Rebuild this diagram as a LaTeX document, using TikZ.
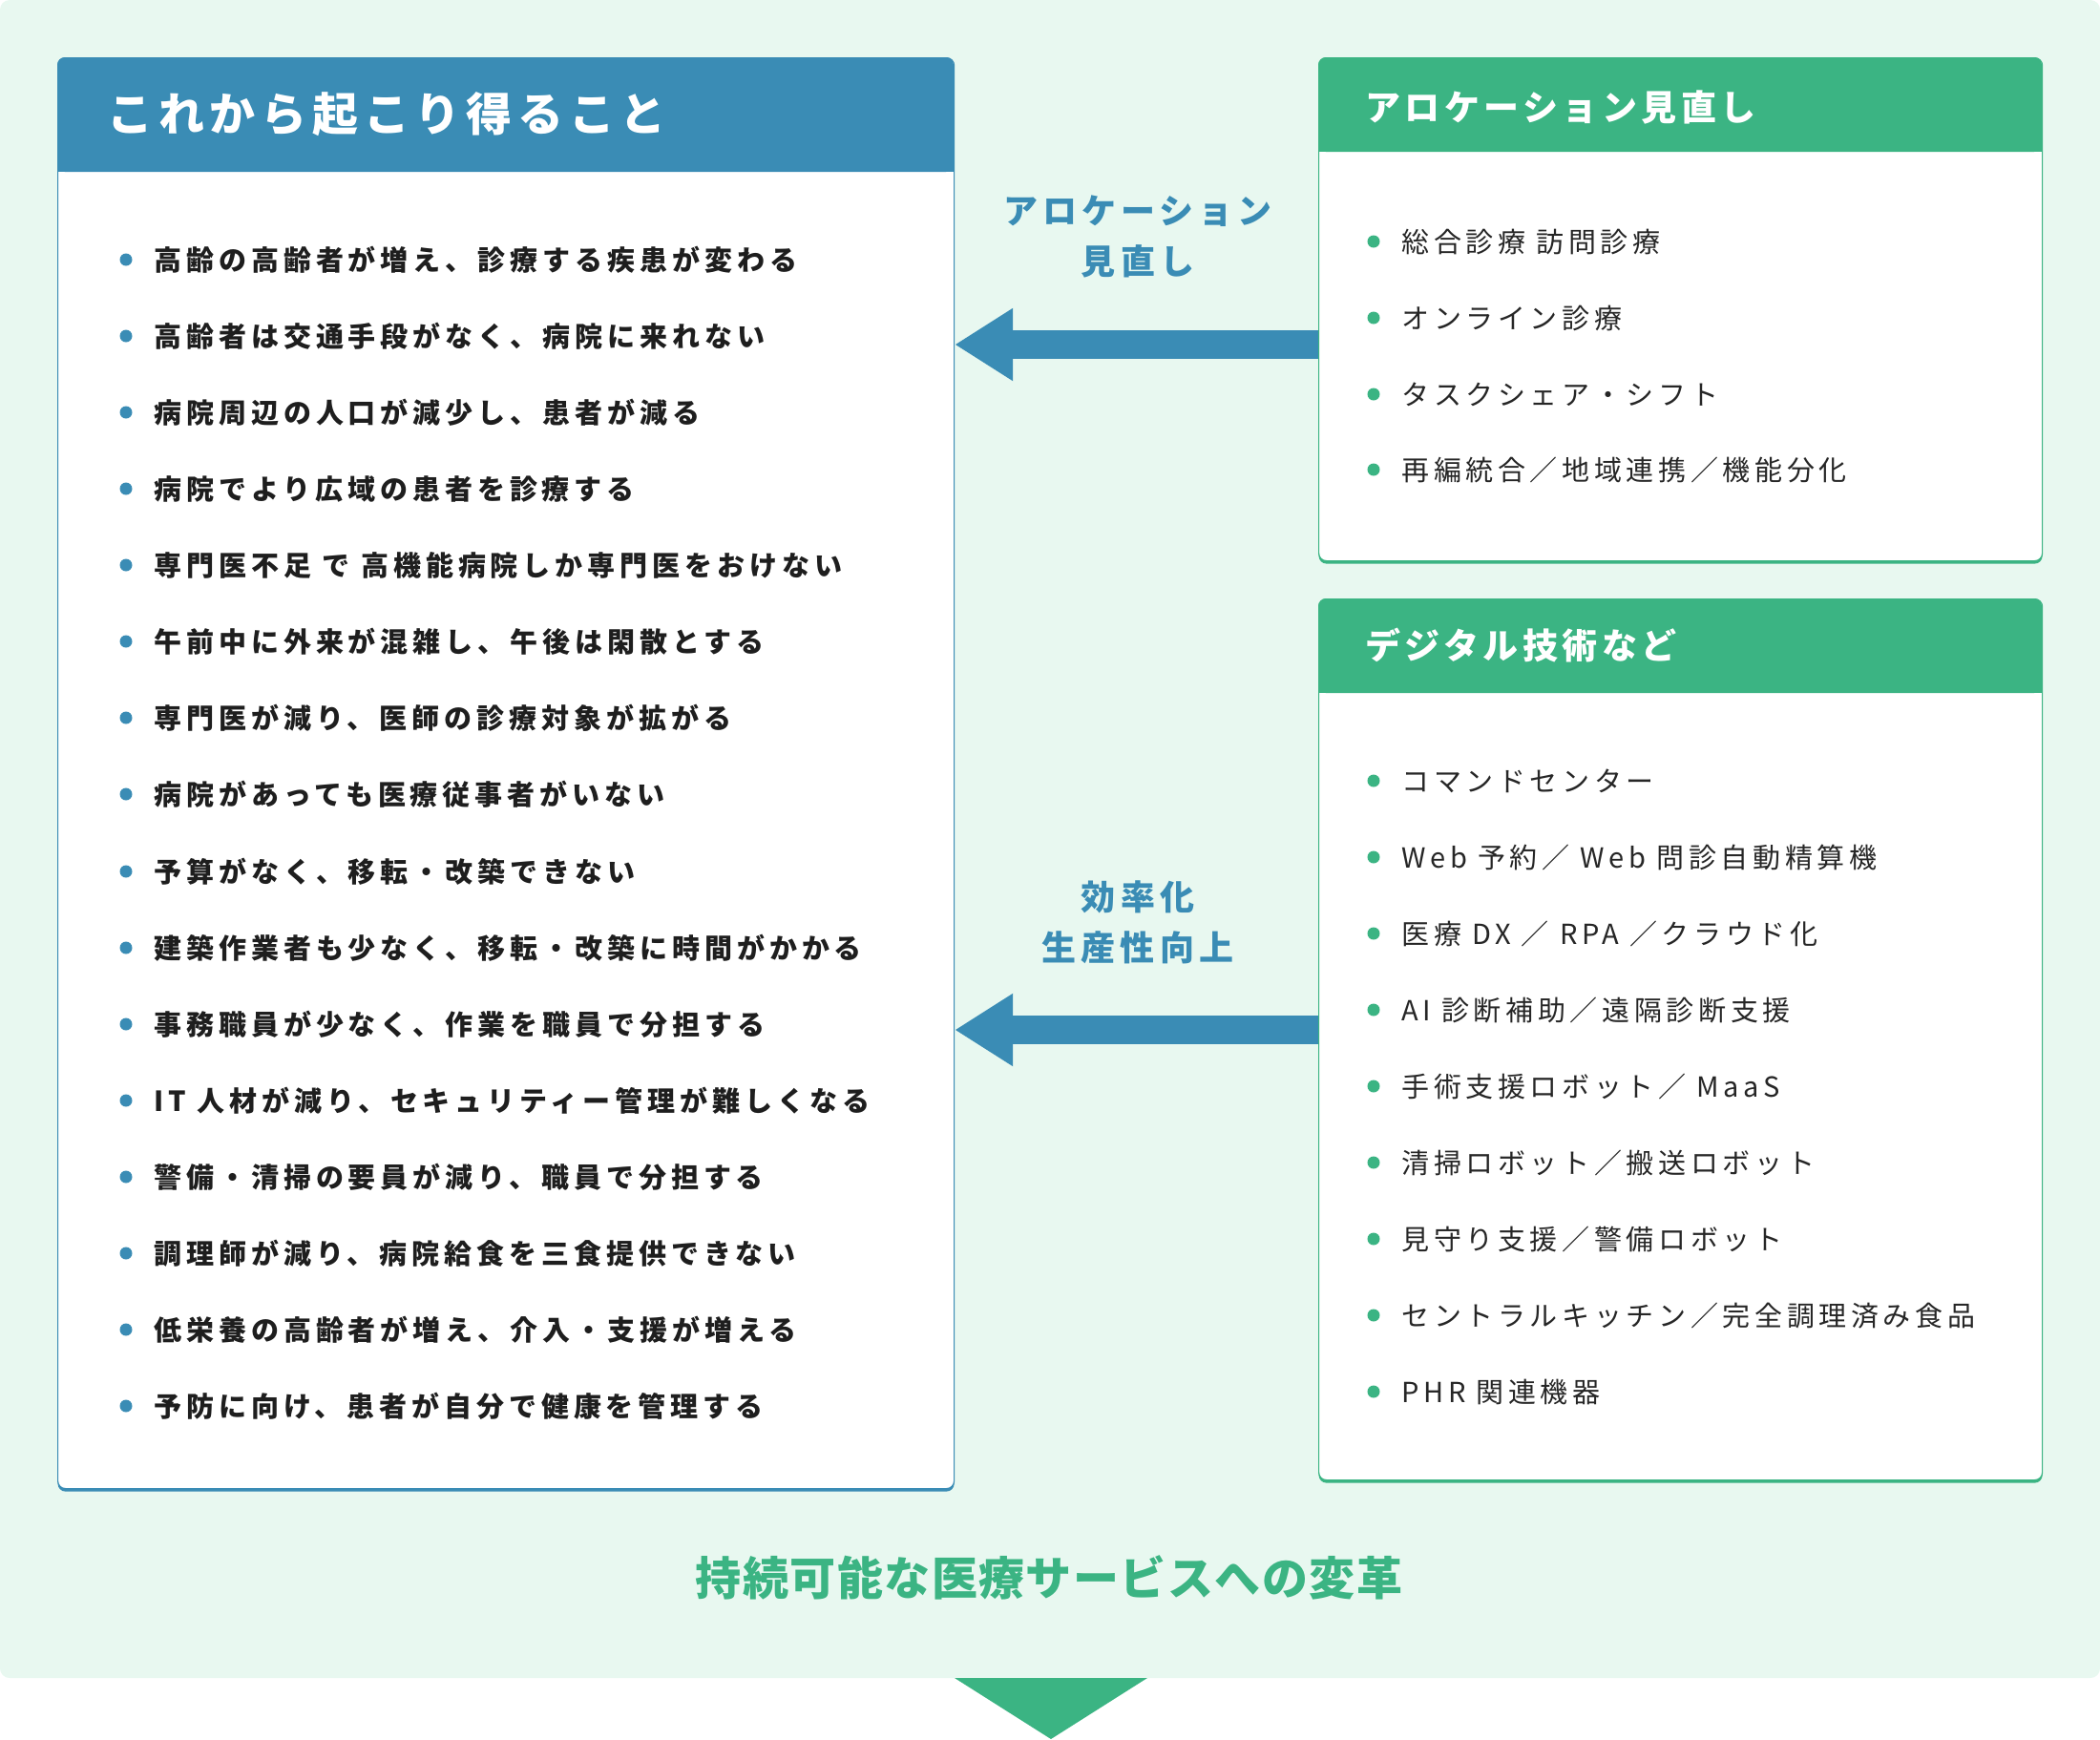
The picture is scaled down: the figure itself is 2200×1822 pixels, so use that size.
\documentclass[tikz,border=0pt]{standalone}
\usepackage{fontspec}
\setmainfont{Noto Sans CJK JP}
\newfontfamily\itemfont[LetterSpace=17]{Noto Sans CJK JP}
\newfontfamily\toolfont[LetterSpace=16]{Noto Sans CJK JP}
\newfontfamily\headfont[LetterSpace=12]{Noto Sans CJK JP}
\newfontfamily\labelfont[LetterSpace=14]{Noto Sans CJK JP}
\newfontfamily\goalfont[LetterSpace=3]{Noto Sans CJK JP}
\usetikzlibrary{arrows.meta,positioning}

\definecolor{mintbg}{HTML}{E8F8F0}
\definecolor{hblue}{HTML}{3A8CB5}
\definecolor{hgreen}{HTML}{3BB483}
\definecolor{inkdark}{HTML}{1E1E1E}
\definecolor{inkgray}{HTML}{262626}

\tikzset{
	panel/.style={fill=white, line width=0.6pt, rounded corners=4pt, anchor=north west, inner sep=0pt},
	riskpanel/.style={panel, draw=hblue, preaction={fill=hblue, transform canvas={yshift=-1.5pt}}},
	toolpanel/.style={panel, draw=hgreen, preaction={fill=hgreen, transform canvas={yshift=-1.5pt}}},
	risktext/.style={anchor=west, inner sep=0pt, text height=12.8pt, text depth=1.7pt, text=inkdark, font=\itemfont\bfseries\fontsize{14.5pt}{17pt}\selectfont},
	tooltext/.style={anchor=west, inner sep=0pt, text height=12.8pt, text depth=1.7pt, text=inkgray, font=\toolfont\fontsize{14.5pt}{17pt}\selectfont},
	headtext/.style={anchor=west, inner sep=0pt, text=white},
	arrowlabel/.style={align=center, inner sep=0pt, text=hblue, font=\labelfont\bfseries\fontsize{18pt}{26.5pt}\selectfont},
	bigarrow/.style={hblue, line width=15pt, -{Triangle[length=30.5pt,width=36pt]}},
}

\def\riskrow(#1)(#2)#3{\fill[hblue] (132,#2) circle (3.25pt); \node[risktext] (#1) at (161,#2) {#3};}
\def\toolrow(#1)(#2)#3{\fill[hgreen] (1439,#2) circle (3.25pt); \node[tooltext] (#1) at (1468,#2) {#3};}

\begin{document}
\begin{tikzpicture}[x=0.5pt,y=-0.5pt]
		%%%%% START %%%%%
		\useasboundingbox (0,0) rectangle (2200,1822);
		
		\fill[mintbg, rounded corners=5pt] (0,0) rectangle (2200,1758);
		\fill[hgreen] (1000,1758) -- (1202,1758) -- (1101,1822) -- cycle;
		
		\coordinate (upperlevel) at (0,361);
		\coordinate (lowerlevel) at (0,1079);
		
		% boxes
		\node[riskpanel, minimum width=469.5pt, minimum height=749.5pt] (risks) at (60,60) {};
		\node[toolpanel, minimum width=379pt, minimum height=263.5pt] (alloc) at (1381,60) {};
		\node[toolpanel, minimum width=379pt, minimum height=461.5pt] (digital) at (1381,627) {};
		
		% headers
		\fill[hblue, rounded corners=4pt] (60,60) rectangle (999,180);
		\fill[hblue] (60,150) rectangle (999,180);
		\fill[hgreen, rounded corners=4pt] (1381,60) rectangle (2139,159);
		\fill[hgreen] (1381,130) rectangle (2139,159);
		\fill[hgreen, rounded corners=4pt] (1381,627) rectangle (2139,726);
		\fill[hgreen] (1381,700) rectangle (2139,726);
		
		\node[headtext, font=\headfont\bfseries\fontsize{24pt}{28pt}\selectfont] (riskhead) at (112,120) {これから起こり得ること};
		\node[headtext, font=\headfont\bfseries\fontsize{18.5pt}{22pt}\selectfont] (allochead) at (1430,112) {アロケーション見直し};
		\node[headtext, font=\headfont\bfseries\fontsize{18.5pt}{22pt}\selectfont] (digitalhead) at (1430,676) {デジタル技術など};
		
		% arrows
		\draw[bigarrow] (alloc.west |- upperlevel) -- (risks.east |- upperlevel);
		\draw[bigarrow] (digital.west |- lowerlevel) -- (risks.east |- lowerlevel);
		
		\node[arrowlabel] (alloclabel) at (1192,248) {アロケーション\\見直し};
		\node[arrowlabel] (digitallabel) at (1192,966) {効率化\\生産性向上};
		
		% left list
		\riskrow(r1)(272){高齢の高齢者が増え、診療する疾患が変わる}
		\riskrow(r2)(352){高齢者は交通手段がなく、病院に来れない}
		\riskrow(r3)(432){病院周辺の人口が減少し、患者が減る}
		\riskrow(r4)(512){病院でより広域の患者を診療する}
		\riskrow(r5)(592){専門医不足 で 高機能病院しか専門医をおけない}
		\riskrow(r6)(672){午前中に外来が混雑し、午後は閑散とする}
		\riskrow(r7)(752){専門医が減り、医師の診療対象が拡がる}
		\riskrow(r8)(832){病院があっても医療従事者がいない}
		\riskrow(r9)(913){予算がなく、移転・改築できない}
		\riskrow(r10)(993){建築作業者も少なく、移転・改築に時間がかかる}
		\riskrow(r11)(1073){事務職員が少なく、作業を職員で分担する}
		\riskrow(r12)(1153){IT 人材が減り、セキュリティー管理が難しくなる}
		\riskrow(r13)(1233){警備・清掃の要員が減り、職員で分担する}
		\riskrow(r14)(1313){調理師が減り、病院給食を三食提供できない}
		\riskrow(r15)(1393){低栄養の高齢者が増え、介入・支援が増える}
		\riskrow(r16)(1473){予防に向け、患者が自分で健康を管理する}
		
		% right lists
		\toolrow(a1)(253){総合診療 訪問診療}
		\toolrow(a2)(333){オンライン診療}
		\toolrow(a3)(413){タスクシェア・シフト}
		\toolrow(a4)(492){再編統合／地域連携／機能分化}
		
		\toolrow(d1)(818){コマンドセンター}
		\toolrow(d2)(898){Web 予約／ Web 問診自動精算機}
		\toolrow(d3)(978){医療 DX ／ RPA ／クラウド化}
		\toolrow(d4)(1058){AI 診断補助／遠隔診断支援}
		\toolrow(d5)(1138){手術支援ロボット／ MaaS}
		\toolrow(d6)(1218){清掃ロボット／搬送ロボット}
		\toolrow(d7)(1298){見守り支援／警備ロボット}
		\toolrow(d8)(1378){セントラルキッチン／完全調理済み食品}
		\toolrow(d9)(1458){PHR 関連機器}
		
		\node[text=hgreen, inner sep=0pt, font=\goalfont\bfseries\fontsize{24pt}{28pt}\selectfont] (goal) at (1099,1653) {持続可能な医療サービスへの変革};
		
		%%%%% END %%%%%
	\end{tikzpicture}
\end{document}
